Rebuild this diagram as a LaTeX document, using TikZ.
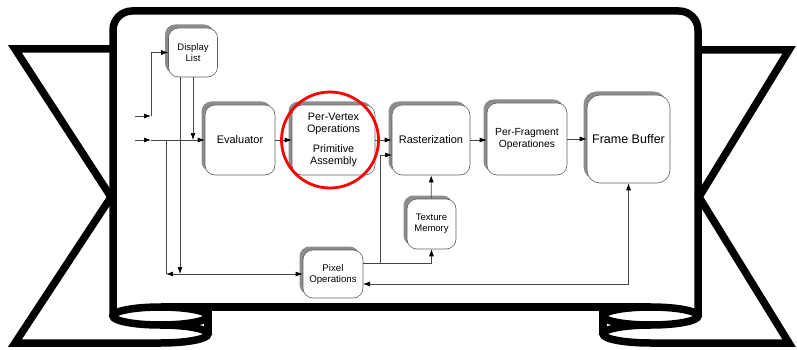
\documentclass[tikz,border=0pt]{standalone}
\usepackage{fontspec}
\setmainfont{Liberation Sans}
\usetikzlibrary{arrows.meta,shadows}
\begin{document}
\begin{tikzpicture}[x=1pt,y=-1pt,
 box/.style={draw=gray!75!black, line width=0.6pt, fill=white, rounded corners=10pt, align=center, inner sep=1pt,
   general shadow={fill=gray!90, shadow xshift=-3.5pt, shadow yshift=3.5pt}},
 conn/.style={draw=gray!55!black, line width=0.7pt},
 arr/.style={conn, -{Latex[length=7pt,width=5pt,color=black]}},
 arrboth/.style={conn, {Latex[length=7pt,width=5pt,color=black]}-{Latex[length=7pt,width=5pt,color=black]}},
 rib/.style={line width=7.5pt, line join=miter, draw=black},
 fA/.style={font=\fontsize{9.5}{11}\selectfont},
 fB/.style={font=\fontsize{11}{13}\selectfont},
]
\useasboundingbox (0,0) rectangle (797,350);

% ribbon
\draw[rib] (113,49) -- (15,49) -- (111,197) -- (15,343) -- (160.5,343)
  arc[start angle=-90, end angle=90, x radius=47.5pt, y radius=9pt];
\draw[rib] (650.5,325) arc[start angle=90, end angle=270, x radius=47.5pt, y radius=9pt]
  -- (789,343) -- (699,197) -- (789,50) -- (698,50);
\draw[rib, rounded corners=19pt] (113,316) -- (113,11) -- (698,11) -- (698,316);
\draw[rib] (160.5,307) -- (650.5,307);
\draw[rib] (160.5,316) ellipse [x radius=47.5pt, y radius=9pt];
\draw[rib] (650.5,316) ellipse [x radius=47.5pt, y radius=9pt];
\draw[rib] (208,307) -- (208,334);
\draw[rib] (603,307) -- (603,334);

% nodes
\node[box, fA, minimum width=49pt, minimum height=49pt] (dl) at (193,52.5) {Display\\List};
\node[box, fB, minimum width=70pt, minimum height=70pt] (eval) at (240,140) {Evaluator};
\node[box, font=\fontsize{10.8}{12.5}\selectfont, minimum width=83pt, minimum height=70pt] (pv) at (333.5,140) {Per-Vertex\\Operations\\[7pt]Primitive\\Assembly};
\node[box, fB, minimum width=78pt, minimum height=70pt] (rast) at (431,140) {Rasterization};
\node[box, font=\fontsize{10.3}{12}\selectfont, minimum width=80pt, minimum height=72pt] (pf) at (527,139) {Per-Fragment\\Operationes};
\node[box, font=\fontsize{12.5}{15}\selectfont, rounded corners=13pt, minimum width=83pt, minimum height=88pt] (fb) at (628.5,139) {Frame Buffer};
\node[box, fA, minimum width=49pt, minimum height=50pt] (tm) at (431.5,224) {Texture\\Memory};
\node[box, font=\fontsize{9.7}{11}\selectfont, minimum width=60pt, minimum height=48pt] (po) at (333,274) {Pixel\\Operations};

% coordinates
\coordinate (in1) at (135,116);
\coordinate (k1) at (151,116);
\coordinate (in2) at (135,140);
\coordinate (k2) at (151,140);
\coordinate (k3) at (166,140);
\coordinate (k4) at (166,274);
\coordinate (dl2) at (180,77);
\coordinate (k5) at (180,274);
\coordinate (poA) at (363,263);
\coordinate (k6) at (380,263);
\coordinate (r2) at (392,155);
\coordinate (poB) at (363,284);

% connectors
\draw[arr] (in1) -- (k1);
\draw[arr] (k1) |- (dl.west);
\draw[arr] (in2) -- (k2);
\draw[arr] (k2) -- (eval.west);
\draw[arr] (dl.south) -- (dl.south |- eval.west);
\draw[conn] (k3) -- (k4);
\draw[arr] (dl2) -- (k5);
\draw[arrboth] (k4) -- (po.west);
\draw[arr] (eval) -- (pv);
\draw[arr] (pv) -- (rast);
\draw[arr] (rast.east) -- (rast.east -| pf.west);
\draw[arr] (pf.east) -- (pf.east -| fb.west);
\draw[arr] (tm) -- (rast);
\draw[arr] (poA) -| (tm.south);
\draw[arr] (k6) |- (r2);
\draw[arrboth] (poB) -| (fb.south);

% highlight
\draw[red, line width=2.8pt] (330,140) ellipse [x radius=48.5pt, y radius=48pt];
\end{tikzpicture}
\end{document}
